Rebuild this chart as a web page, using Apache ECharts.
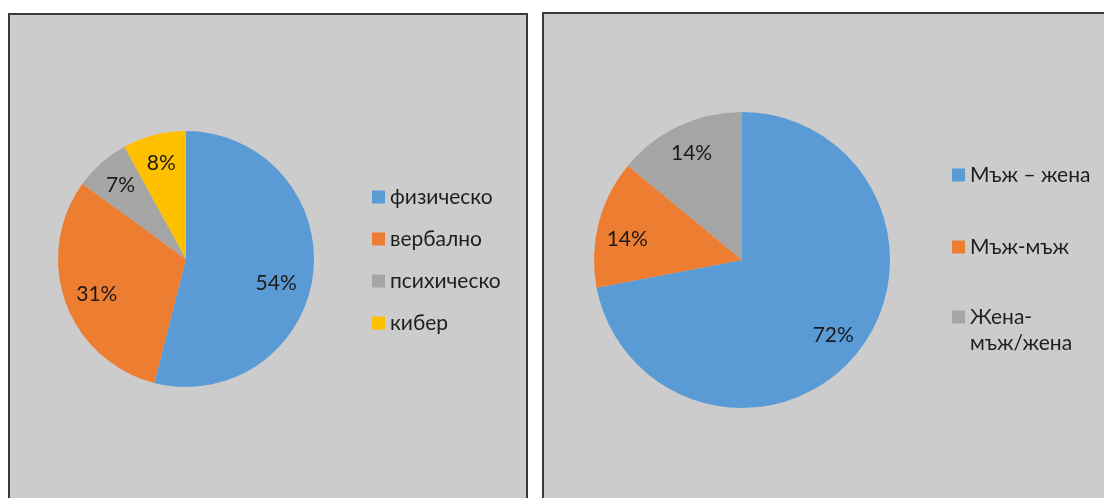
<!DOCTYPE html>
<html>
<head>
<meta charset="utf-8">
<script src="https://cdn.jsdelivr.net/npm/echarts@6/dist/echarts.min.js"></script>
<style>
  html, body { margin: 0; padding: 0; background: #ffffff; }
  #chart { width: 1104px; height: 498px; }
</style>
</head>
<body>
<div id="chart"></div>
<script>
// ---- data ----
const categories1 = ['физическо', 'вербално', 'психическо', 'кибер'];
const values1 = [54, 31, 7, 8];
const categories2 = ['Мъж – жена', 'Мъж-мъж', 'Жена-мъж/жена'];
const values2 = [72, 14, 14];

// ---- styles ----
const palette = ['#5B9BD5', '#ED7D31', '#A5A5A5', '#FFC000'];
const FONT = "Lato, 'Noto Sans', sans-serif";
const textColor = '#1e1e1e';
const labelOffsets1 = { 0: [-8, 12], 1: [4, 2] };
const labelOffsets2 = { 1: [0, 9] };

function toData(cats, vals, offsets) {
  return cats.map((name, i) => {
    const d = { name: name, value: vals[i], itemStyle: { color: palette[i] } };
    if (offsets && offsets[i]) d.label = { offset: offsets[i] };
    return d;
  });
}

const chart = echarts.init(document.getElementById('chart'), null, { renderer: 'canvas' });

const pie1 = { center: [186, 259], r: 128 };
const pie2 = { center: [742, 260], r: 148 };

function basePie(cfg, data) {
  return {
    type: 'pie',
    center: cfg.center,
    radius: [0, cfg.r],
    startAngle: 90,
    clockwise: true,
    data: data,
    label: { show: false },
    labelLine: { show: false },
    itemStyle: { borderWidth: 0 },
    emphasis: { disabled: true },
    animation: false
  };
}
function labelRing(cfg, data, innerFrac) {
  return {
    type: 'pie',
    center: cfg.center,
    radius: [cfg.r * innerFrac, cfg.r],
    startAngle: 90,
    clockwise: true,
    silent: true,
    legendHoverLink: false,
    avoidLabelOverlap: false,
    data: data.map(d => Object.assign({}, d, { itemStyle: { color: 'rgba(0,0,0,0)' } })),
    itemStyle: { color: 'rgba(0,0,0,0)', borderWidth: 0 },
    label: {
      show: true,
      position: 'inside',
      formatter: '{c}%',
      fontFamily: FONT,
      fontSize: 21,
      color: '#1a1a1a'
    },
    labelLine: { show: false },
    emphasis: { disabled: true },
    animation: false
  };
}

const data1 = toData(categories1, values1, labelOffsets1);
const data2 = toData(categories2, values2, labelOffsets2);

const legendText = { fontFamily: FONT, fontSize: 21, color: textColor, lineHeight: 26 };

chart.setOption({
  backgroundColor: '#ffffff',
  animation: false,
  graphic: [
    { type: 'rect', z: -10, shape: { x: 9, y: 14, width: 518, height: 500 },
      style: { fill: '#CCCCCC', stroke: '#3a3a3a', lineWidth: 2 } },
    { type: 'rect', z: -10, shape: { x: 543, y: 13, width: 580, height: 500 },
      style: { fill: '#CCCCCC', stroke: '#3a3a3a', lineWidth: 2 } }
  ],
  legend: [
    {
      orient: 'vertical', left: 372, top: 184, padding: 0,
      itemWidth: 13, itemHeight: 13, itemGap: 16,
      icon: 'rect', selectedMode: false,
      data: categories1,
      textStyle: legendText
    },
    {
      orient: 'vertical', left: 952, top: 162, padding: 0,
      itemWidth: 13, itemHeight: 13, itemGap: 46,
      icon: 'rect', selectedMode: false,
      data: categories2.slice(0, 2),
      textStyle: legendText
    },
    {
      orient: 'vertical', left: 952, top: 278, padding: 0,
      itemWidth: 13, itemHeight: 13,
      icon: 'rect', selectedMode: false,
      data: categories2.slice(2),
      formatter: n => '\n' + n.replace(/^(Жена-)/, '$1\n'),
      textStyle: legendText
    }
  ],
  series: [
    basePie(pie1, data1),
    basePie(pie2, data2),
    labelRing(pie1, data1, 0.5),
    labelRing(pie2, data2, 0.56)
  ]
});
</script>
</body>
</html>
